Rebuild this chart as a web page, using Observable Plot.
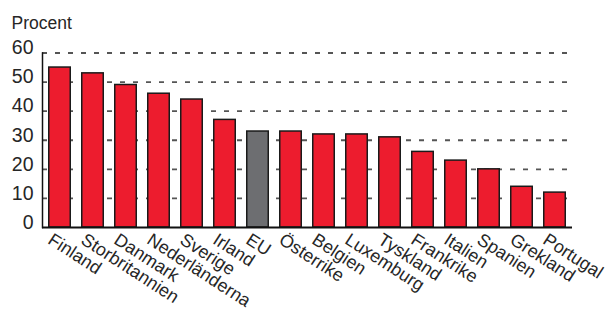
<!DOCTYPE html>
<html>
<head>
<meta charset="utf-8">
<script src="https://cdn.jsdelivr.net/npm/d3@7"></script>
<script src="https://cdn.jsdelivr.net/npm/@observablehq/plot@0.6"></script>
<style>
  html, body { margin: 0; padding: 0; background: #fff; }
  svg { display: block; }
</style>
</head>
<body>
<div id="chart"></div>
<script>
const countries = ["Finland", "Storbritannien", "Danmark", "Nederländerna", "Sverige", "Irland", "EU", "Österrike", "Belgien", "Luxemburg", "Tyskland", "Frankrike", "Italien", "Spanien", "Grekland", "Portugal"];
const values = [55, 53, 49, 46, 44, 37, 33, 33, 32, 32, 31, 26, 23, 20, 14, 12];
const yTicks = [0, 10, 20, 30, 40, 50, 60];
const gridValues = [10, 20, 30, 40, 50, 60];
const yLabel = "Procent";

const data = countries.map((c, i) => ({country: c, value: values[i]}));
const RED = "#ED1C2E";
const GRAY = "#6D6E71";
const FONT = "'Liberation Sans', Arial, Helvetica, sans-serif";

const chart = Plot.plot({
  width: 610,
  height: 313,
  marginLeft: 42,
  marginRight: 38,
  marginTop: 52.5,
  marginBottom: 86,
  style: {fontFamily: FONT, color: "#262626", background: "#fff"},
  x: {domain: countries, paddingInner: 0.29, paddingOuter: 0.16, label: null},
  y: {domain: [0, 60], label: null},
  marks: [
    Plot.ruleY(gridValues, {y: d => d, stroke: "#555", strokeWidth: 1.8, strokeDasharray: "5,8"}),
    Plot.barY(data, {x: "country", y: "value", fill: d => d.country === "EU" ? GRAY : RED, stroke: "#1a1a1a", strokeWidth: 1.5, insetLeft: 0.75, insetRight: 0.75}),
    Plot.ruleY([0], {stroke: "#111", strokeWidth: 2}),
    Plot.frame({anchor: "left", stroke: "#111", strokeWidth: 1.5}),
    Plot.axisY({ticks: yTicks, tickSize: 0, tickPadding: 9, fontSize: 19.5, dy: -5, label: null, tickFormat: d => d}),
    Plot.axisX({tickSize: 0, tickRotate: 33, fontSize: 18, label: null, textAnchor: "start", dx: -10, dy: -2}),
    Plot.text([yLabel], {text: d => d, frameAnchor: "top-left", textAnchor: "start", lineAnchor: "bottom", dx: -31, dy: -24.5, fontSize: 17.5, fill: "#262626"})
  ]
});
document.getElementById("chart").appendChild(chart);
</script>
</body>
</html>
